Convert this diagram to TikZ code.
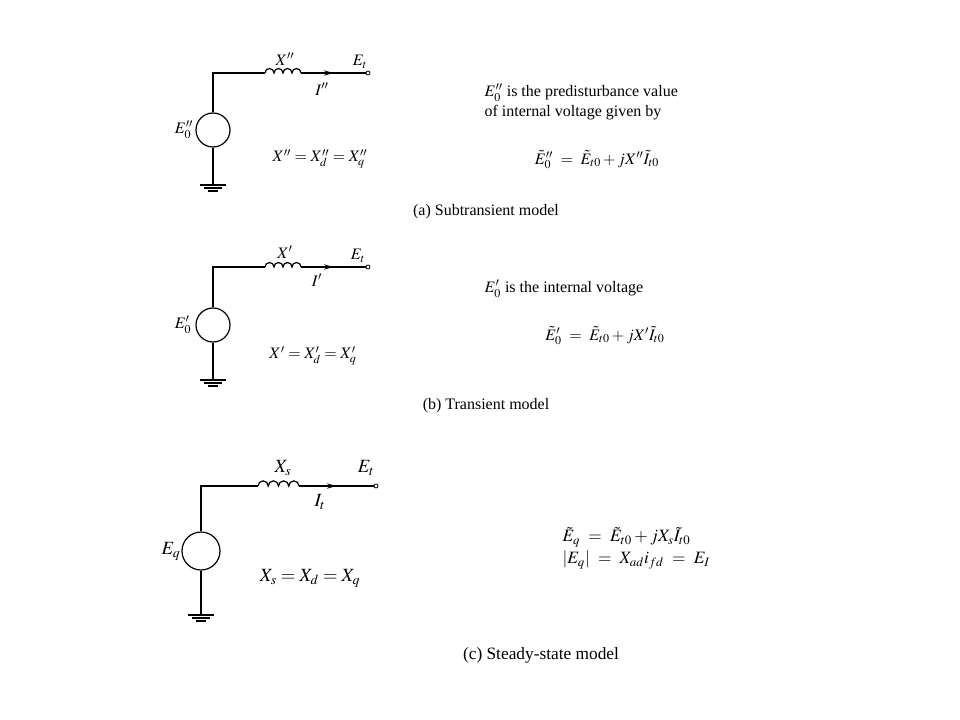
\documentclass[tikz,border=0pt]{standalone}
\usepackage{mathptmx}
\usepackage{fontspec}
\setmainfont{Liberation Serif}
\usetikzlibrary{calc,arrows.meta}
\begin{document}
\begin{tikzpicture}[x=0.75pt,y=-0.75pt,line width=0.9pt,
  lbl/.style={inner sep=0pt,font=\fontsize{12}{14}\selectfont},
  txt/.style={inner sep=0pt,font=\fontsize{12}{15}\selectfont,align=left},
  src/.style={circle,draw,minimum size=#1,inner sep=0pt},
  term/.style={circle,draw,minimum size=3pt,inner sep=0pt,line width=0.6pt}]
\useasboundingbox[fill=white] (0,0) rectangle (960,720);
\newcommand{\mycirc}[8]{%
  \node[src=#7*0.75pt] (s#6) at (#1,#6) {};
  \coordinate (c#6) at (#1,#2);
  \coordinate (k#6) at (#3,#2);
  \coordinate (ke#6) at (#4,#2);
  \node[term] (t#6) at (#5,#2) {};
  \coordinate (g#6) at (#1,#8);
  \draw (s#6.north) -- (c#6) -- (k#6);
  \pgfmathsetmacro{\cr}{(#4-#3)/8*0.75}
  \draw (k#6) \foreach \i in {1,...,4}{ arc[start angle=180,end angle=0,radius=\cr pt]};
  \draw (ke#6) -- (t#6.west);
  \draw[-{Stealth[length=7pt,width=4pt]}] (ke#6) -- ($(ke#6)!0.5!(t#6.west)$);
  \draw (s#6.south) -- (g#6);
  \draw ($(g#6)+(-13,0)$) -- ($(g#6)+(13,0)$);
  \draw ($(g#6)+(-9,3)$) -- ($(g#6)+(9,3)$);
  \draw ($(g#6)+(-5,6)$) -- ($(g#6)+(5,6)$);
}
% (a)
\mycirc{213}{73}{265}{301}{368}{130}{34}{185}
\node[lbl] (la1) at (285,59) {$X''$};
\node[lbl] (la2) at (360,62) {$E_t$};
\node[lbl] (la3) at (322,89) {$I''$};
\node[lbl] (la4) at (184,130) {$E_0''$};
\node[lbl] (la5) at (320,159) {$X''=X_d''=X_q''$};
\node[txt,anchor=west] (ta1) at (484,93) {$E_0''$ is the predisturbance value};
\node[txt,anchor=west] (ta2) at (484,113) {of internal voltage given by};
\node[txt] (ta3) at (597,160) {$\tilde E_0''\ =\ \tilde E_{t0}+jX''\tilde I_{t0}$};
\node[txt] (ca) at (486,212) {(a) Subtransient model};
% (b)
\mycirc{213}{267}{265}{301}{368}{325}{34}{380}
\node[lbl] (lb1) at (285,252) {$X'$};
\node[lbl] (lb2) at (358,256) {$E_t$};
\node[lbl] (lb3) at (317,280) {$I'$};
\node[lbl] (lb4) at (183,325) {$E_0'$};
\node[lbl] (lb5) at (313,356) {$X'=X_d'=X_q'$};
\node[txt,anchor=west] (tb1) at (484,289) {$E_0'$ is the internal voltage};
\node[txt] (tb2) at (605,336) {$\tilde E_0'\ =\ \tilde E_{t0}+jX'\tilde I_{t0}$};
\node[txt] (cb) at (486,406) {(b) Transient model};
% (c)
\mycirc{201}{486}{258}{299}{376}{551}{38}{615}
\node[lbl,font=\fontsize{14}{16}\selectfont] (lc1) at (283,468) {$X_s$};
\node[lbl,font=\fontsize{14}{16}\selectfont] (lc2) at (366,468) {$E_t$};
\node[lbl,font=\fontsize{14}{16}\selectfont] (lc3) at (320,502) {$I_t$};
\node[lbl,font=\fontsize{14}{16}\selectfont] (lc4) at (171,551) {$E_q$};
\node[lbl,font=\fontsize{14}{16}\selectfont] (lc5) at (310,578) {$X_s=X_d=X_q$};
\node[txt,font=\fontsize{13}{16}\selectfont,anchor=west] (tc1) at (562,537) {$\tilde E_q\ =\ \tilde E_{t0}+jX_s\tilde I_{t0}$};
\node[txt,font=\fontsize{13}{16}\selectfont,anchor=west] (tc2) at (562,560) {$|E_q|\ =\ X_{ad}i_{fd}\ =\ E_I$};
\node[txt,font=\fontsize{13}{16}\selectfont] (cc) at (541,655) {(c) Steady-state model};
\end{tikzpicture}
\end{document}
